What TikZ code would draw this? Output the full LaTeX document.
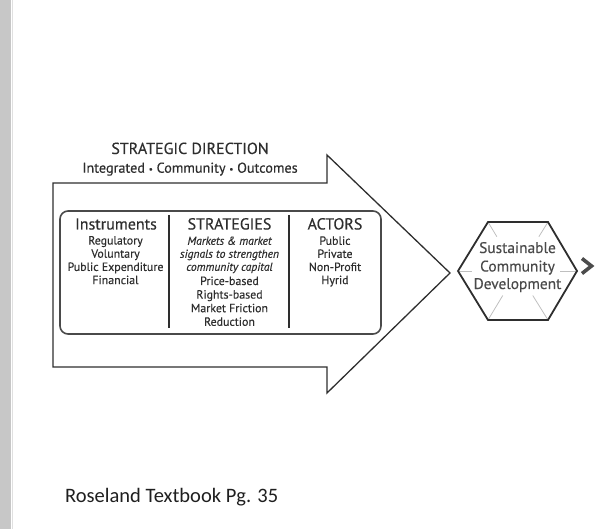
\documentclass[tikz,border=0pt]{standalone}
\usepackage{fontspec}
\usetikzlibrary{calc}
\setmainfont{PT Sans}[FakeBold=0.35]
\newfontfamily\capfont{Carlito}
\definecolor{ink}{HTML}{2E2E2E}
\definecolor{hexink}{HTML}{4A4A4A}
\begin{document}
\begin{tikzpicture}[x=1pt,y=-1pt,
  arrowline/.style={draw=ink, line width=1.3pt, line join=miter},
  innerbox/.style={draw=hexink, line width=1.6pt, rounded corners=8pt},
  divider/.style={draw=ink, line width=1.3pt},
  hexline/.style={draw=ink, line width=1.8pt, line join=miter},
  spoke/.style={draw=black!25, line width=0.8pt},
  ttl/.style={anchor=base, inner sep=0pt, text=ink, font=\fontsize{16}{18}\selectfont},
  sub/.style={anchor=base, inner sep=0pt, text=ink, font=\fontsize{14.2}{16}\selectfont},
  hdr/.style={anchor=base, inner sep=0pt, text=ink, font=\fontsize{16}{18}\selectfont},
  itm/.style={anchor=base, inner sep=0pt, text=ink, font=\fontsize{11.9}{13}\selectfont},
  itl/.style={anchor=base, inner sep=0pt, text=ink, font=\fontsize{11.6}{13}\selectfont\itshape},
  hext/.style={anchor=base, inner sep=0pt, text=hexink, font=\fontsize{15.4}{17}\selectfont},
  capt/.style={anchor=base west, inner sep=0pt, text=black!88, font=\capfont\fontsize{20.5}{24}\selectfont}]
\useasboundingbox (0,0) rectangle (613,529);
% screenshot side strip
\fill[black!22] (0,0) rectangle (11,529);
\draw[black!12, line width=0.8pt] (12.5,0) -- (12.5,529);

% big arrow
\coordinate (a1) at (53,183);
\coordinate (a2) at (327,183);
\coordinate (a3) at (327,155);
\coordinate (tip) at (450,273);
\coordinate (a5) at (327,393);
\coordinate (a6) at (327,367);
\coordinate (a7) at (53,367);
\draw[arrowline] (a1) -- (a2) -- (a3) -- (tip) -- (a5) -- (a6) -- (a7) -- cycle;

% titles
\node[ttl] (sd) at (190,154) {STRATEGIC DIRECTION};
\node[sub] (ico) at (190,172.7) {Integrated {\fontsize{9}{10}\selectfont\raisebox{0.5pt}{•}} Community {\fontsize{9}{10}\selectfont\raisebox{0.5pt}{•}} Outcomes};

% inner box and dividers
\draw[innerbox] (60,211) rectangle (381,334);
\coordinate (d1t) at (169,215); \coordinate (d1b) at (169,328);
\coordinate (d2t) at (289,215); \coordinate (d2b) at (289,328);
\draw[divider] (d1t) -- (d1b);
\draw[divider] (d2t) -- (d2b);

% column 1
\node[hdr] (h1) at (116,229.5) {Instruments};
\foreach \t [count=\i from 0] in {Regulatory, Voluntary, Public Expenditure, Financial}
  \node[itm] (ins\i) at (115.5,244.5+13.2*\i) {\t};

% column 2
\node[hdr] (h2) at (229.5,229.5) {STRATEGIES};
\foreach \t [count=\i from 0] in {Markets \& market, signals to strengthen, community capital}
  \node[itl] (sti\i) at (229.5,244.8+13*\i) {\t};
\foreach \t [count=\i from 0] in {Price-based, Rights-based, Market Friction, Reduction}
  \node[itm] (str\i) at (229.5,285+13.6*\i) {\t};

% column 3
\node[hdr] (h3) at (335,229.5) {ACTORS};
\foreach \t [count=\i from 0] in {Public, Private, Non-Profit, Hyrid}
  \node[itm] (act\i) at (335,244.8+13.1*\i) {\t};

% hexagon
\coordinate (hc) at (517.5,271);
\coordinate (v1) at (488,222);
\coordinate (v2) at (548,222);
\coordinate (v3) at (577,271);
\coordinate (v4) at (548,320);
\coordinate (v5) at (488,320);
\coordinate (v6) at (458,271);
\draw[spoke] (v1) -- ($(v1)!0.3!(hc)$);
\draw[spoke] (v2) -- ($(v2)!0.3!(hc)$);
\draw[spoke] (v3) -- ($(v3)!0.28!(hc)$);
\draw[spoke] (v6) -- ($(v6)!0.24!(hc)$);
\draw[spoke] (v4) -- ($(v4)!0.5!(hc)$);
\draw[spoke] (v5) -- ($(v5)!0.5!(hc)$);
\draw[hexline] (v1) -- (v2) -- (v3) -- (v4) -- (v5) -- (v6) -- cycle;
\node[hext] (hx1) at (517.5,253) {Sustainable};
\node[hext] (hx2) at (517.5,271.5) {Community};
\node[hext] (hx3) at (517.5,289) {Development};

% chevron
\coordinate (c1) at (582,258.5);
\coordinate (c2) at (591.5,266);
\coordinate (c3) at (582,273.5);
\draw[draw=black!70, line width=3.6pt, line join=miter] (c1) -- (c2) -- (c3);

% caption
\node[capt] (cap) at (65,502.7) {Roseland Textbook Pg. 35};
\end{tikzpicture}
\end{document}
